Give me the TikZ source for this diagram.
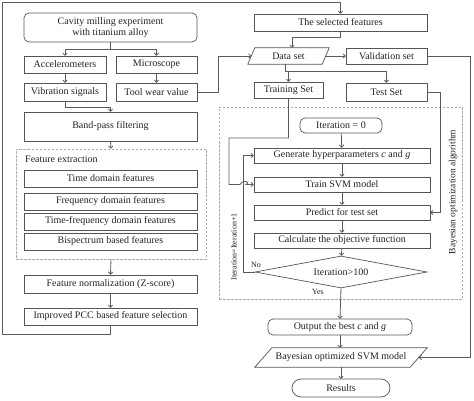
\documentclass[tikz,border=0pt]{standalone}
\usepackage{fontspec}
\setmainfont{Liberation Serif}
\usetikzlibrary{arrows.meta,shapes.geometric,calc}
\definecolor{boxc}{HTML}{555555}
\definecolor{linec}{HTML}{5A5A5A}
\definecolor{txt}{HTML}{222222}
\definecolor{dashc}{HTML}{AAAAAA}
\begin{document}
\begin{tikzpicture}[x=1pt,y=-1pt,
  font=\fontsize{10}{11.5}\selectfont,
  box/.style={draw=boxc, line width=0.7pt, rectangle, inner sep=0pt, text=txt, align=center},
  rbox/.style={box, rounded corners=5pt},
  plain/.style={rectangle, inner sep=0pt, text=txt, align=center},
  ln/.style={draw=linec, line width=0.8pt},
  arr/.style={ln, -{To[length=3pt,width=5pt]}},
  dbox/.style={draw=dashc, line width=0.7pt, dash pattern=on 2.5pt off 1.5pt, rectangle, inner sep=0pt},
  lbl/.style={text=txt, inner sep=0pt, font=\fontsize{8}{9}\selectfont}]
\useasboundingbox (0,0) rectangle (474,401);

% ---------- left column ----------
\node[rbox, minimum width=173pt, minimum height=29pt] (cav) at (110.5,27.5) {Cavity milling experiment\\with titanium alloy};
\node[box, minimum width=82pt, minimum height=17pt] (acc) at (65,64.5) {Accelerometers};
\node[box, minimum width=81pt, minimum height=17pt] (mic) at (156.5,64.5) {Microscope};
\node[box, minimum width=82pt, minimum height=18pt] (vib) at (65,92) {Vibration signals};
\node[box, minimum width=81pt, minimum height=18pt] (tool) at (156.5,92) {Tool wear value};
\node[box, minimum width=173pt, minimum height=29pt] (band) at (110.5,126.5) {Band-pass filtering};
\node[dbox, minimum width=190pt, minimum height=110pt] (fe) at (111,204) {};
\node[lbl, anchor=west, font=\fontsize{10}{11}\selectfont] (fel) at (25,159) {Feature extraction};
\node[box, minimum width=173pt, minimum height=17pt] (td) at (110.5,178.5) {Time domain features};
\node[box, minimum width=173pt, minimum height=17pt] (fd) at (110.5,201.5) {Frequency domain features};
\node[box, minimum width=173pt, minimum height=17pt] (tf) at (110.5,221.5) {Time-frequency domain features};
\node[box, minimum width=173pt, minimum height=17pt] (bs) at (110.5,241.5) {Bispectrum based features};
\node[box, minimum width=173pt, minimum height=18pt] (norm) at (110.5,284) {Feature normalization (Z-score)};
\node[box, minimum width=173pt, minimum height=17pt] (pcc) at (110.5,316.5) {Improved PCC based feature selection};

% ---------- right column ----------
\node[box, minimum width=173pt, minimum height=17pt] (sel) at (340.5,22.5) {The selected features};
\node[plain, minimum width=81pt, minimum height=16pt] (data) at (288.5,56) {Data set};
\draw[draw=boxc, line width=0.7pt] ([xshift=7pt]data.north west) -- (data.north east) -- ([xshift=-7pt]data.south east) -- (data.south west) -- cycle;
\node[box, minimum width=81pt, minimum height=16pt] (val) at (386.5,56) {Validation set};
\node[box, minimum width=69pt, minimum height=16pt] (train) at (288.5,90) {Training Set};
\node[box, minimum width=81pt, minimum height=18pt] (test) at (386.5,92) {Test Set};

\node[dbox, minimum width=243pt, minimum height=192pt] (bay) at (340.5,203) {};
\node[text=txt, inner sep=0pt, rotate=90, font=\fontsize{9.5}{11}\selectfont] (bayl) at (453,192) {Bayesian optimization algorithm};

\node[rbox, minimum width=82pt, minimum height=15pt] (it0) at (341,125.5) {Iteration = 0};
\node[box, minimum width=176pt, minimum height=15pt] (gen) at (342,155.5) {Generate hyperparameters \textit{c} and \textit{g}};
\node[box, minimum width=176pt, minimum height=15pt] (trn) at (342,184.5) {Train SVM model};
\node[box, minimum width=176pt, minimum height=15pt] (pred) at (342,212.5) {Predict for test set};
\node[box, minimum width=176pt, minimum height=15pt] (calc) at (342,240.5) {Calculate the objective function};
\node[diamond, draw=boxc, line width=0.7pt, text=txt, aspect=5.4, minimum width=172pt, minimum height=32pt, inner sep=0pt] (dia) at (341,272) {Iteration>100};
\node[rbox, minimum width=144pt, minimum height=16pt] (out) at (340,327) {Output the best \textit{c} and \textit{g}};
\node[plain, minimum width=172pt, minimum height=19pt] (bsvm) at (341,357.5) {Bayesian optimized SVM model};
\draw[draw=boxc, line width=0.7pt] ([xshift=17pt]bsvm.north west) -- (bsvm.north east) -- ([xshift=-17pt]bsvm.south east) -- (bsvm.south west) -- cycle;
\node[box, rounded corners=9pt, minimum width=98pt, minimum height=18pt] (res) at (341,388) {Results};

\node[lbl] (no) at (256,265) {No};
\node[lbl] (yes) at (318,292) {Yes};
\node[lbl, rotate=90] (incr) at (234,247) {Iteration=Iteration+1};

% ---------- coordinates ----------
\coordinate (cBL) at (2,334);
\coordinate (cTL) at (2,2);
\coordinate (cTW) at (218,56);
\coordinate (cVR) at (470,357.5);
\coordinate (cTR) at (440,92);
\coordinate (cTrA) at (229,138);
\coordinate (cHop) at (240,184.5);
\coordinate (cLoop) at (243,272);

% ---------- connectors ----------
\draw[arr] (cav.south) -- ++(0,7) -| (acc.north);
\draw[arr] (cav.south) -- ++(0,7) -| (mic.north);
\draw[arr] (acc) -- (vib);
\draw[arr] (mic) -- (tool);
\draw[arr] (vib.south) -- ++(0,6) -| (band.north);
\draw[arr] (tool.east) -| (cTW) -- ([xshift=3.5pt]data.west);
\draw[arr] (band.south) -- (fe.north);
\draw[arr] (fe.south) -- (norm.north);
\draw[arr] (norm) -- (pcc);
\draw[arr] (pcc.south) |- (cBL) -- (cTL) -| (sel.north);

\draw[arr] (sel.south) -- ++(0,6) -| ([xshift=3.5pt]data.north);
\draw[arr] ([xshift=-3.5pt]data.east) -- (val.west);
\draw[arr] ([xshift=-3.5pt]data.south) -- ++(0,7) -| (train.north);
\draw[arr] ([xshift=-3.5pt]data.south) -- ++(0,7) -| (test.north);
\draw[arr] (val.east) -| (cVR) -- ([xshift=-8.5pt]bsvm.east);
\draw[arr] (test.east) -| (cTR) |- (pred.east);
\draw[arr] (train.south) |- (cTrA) |- (cHop) .. controls ++(0,-4) and ++(6,-4) .. ++(6,0) -- (trn.west);

\draw[arr] (it0) -- (gen);
\draw[arr] (gen) -- (trn);
\draw[arr] (trn) -- (pred);
\draw[arr] (pred) -- (calc);
\draw[arr] (calc) -- (dia);
\draw[arr] (dia.west) -- (cLoop) |- (gen.west);
\draw[arr] (dia.south) -- (out.north);
\draw[arr] (out.south) -- (out.south |- bsvm.north);
\draw[arr] (bsvm.south) -- (res.north);
\end{tikzpicture}
\end{document}
